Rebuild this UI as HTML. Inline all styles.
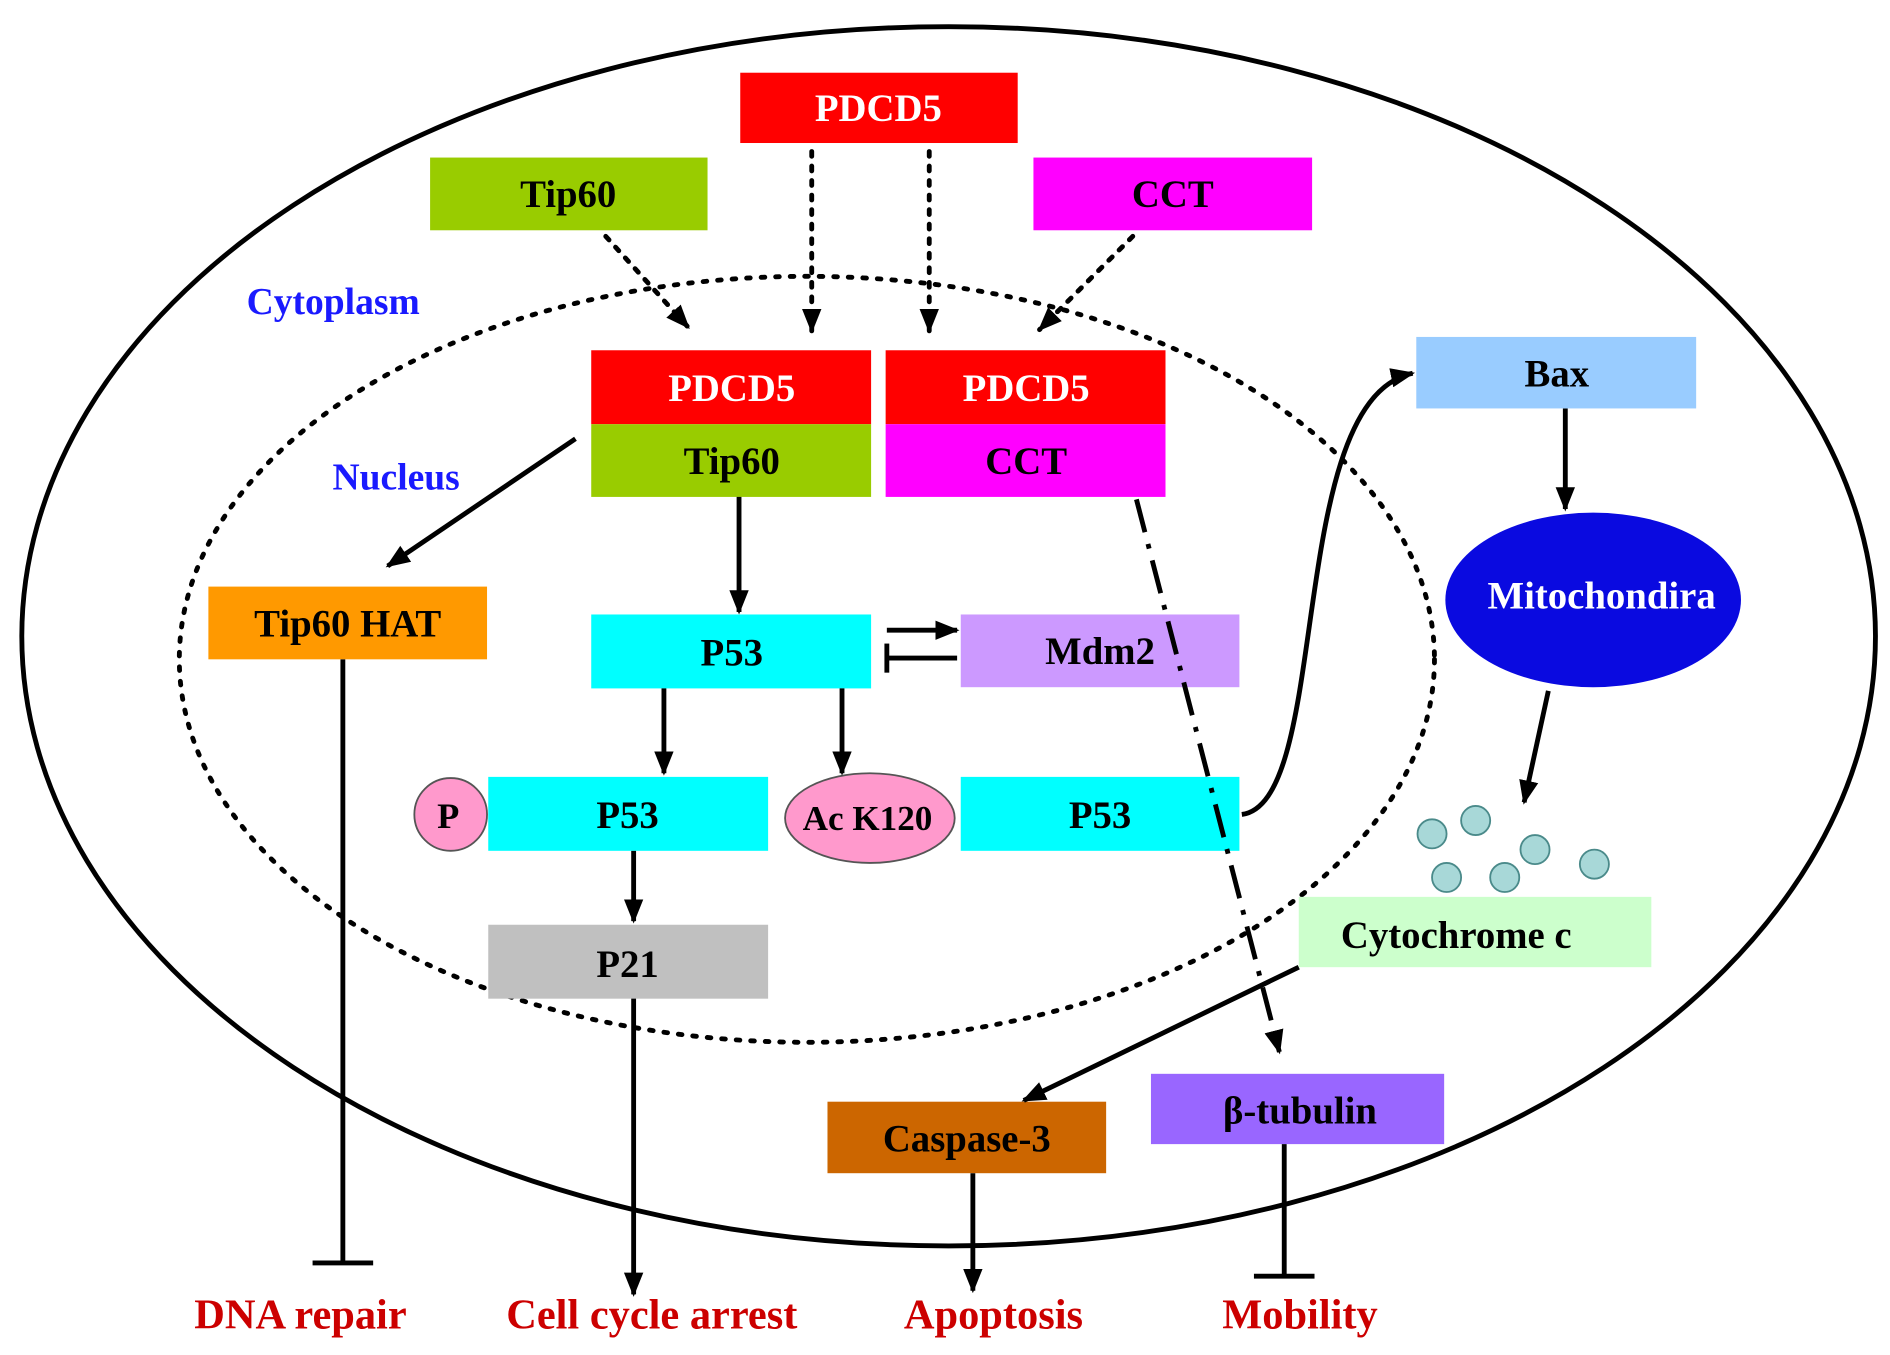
<!DOCTYPE html>
<html><head><meta charset="utf-8"><style>
html,body{margin:0;padding:0;background:#fff}
svg{display:block}
text{font-family:"Liberation Serif",serif;font-weight:bold}
</style></head><body>
<svg width="1890" height="1355" viewBox="0 0 1560 1118" preserveAspectRatio="none" xmlns="http://www.w3.org/2000/svg">
<defs>
<marker id="a" viewBox="0 0 10 10" refX="9" refY="5" markerWidth="6" markerHeight="6" orient="auto" markerUnits="userSpaceOnUse" style="overflow:visible">
<path d="M0,0 L10,5 L0,10 z" fill="#000" transform="scale(2)" />
</marker>
<marker id="b" viewBox="0 0 20 20" refX="18" refY="10" markerWidth="20" markerHeight="20" orient="auto" markerUnits="userSpaceOnUse">
<path d="M0,2 L20,10 L0,18 z" fill="#000"/>
</marker>
</defs>
<rect width="1560" height="1118" fill="#fff"/>
<ellipse cx="783" cy="525" rx="765" ry="503" fill="none" stroke="#000" stroke-width="4"/>
<ellipse cx="666" cy="544" rx="518" ry="316" fill="none" stroke="#000" stroke-width="4" stroke-dasharray="3,9" stroke-linecap="round"/>

<g font-size="32" text-anchor="middle">
<rect x="611" y="60" width="229" height="58" fill="#ff0000"/><text x="725" y="100" fill="#fff">PDCD5</text>
<rect x="355" y="130" width="229" height="60" fill="#99cc00"/><text x="469" y="171" fill="#000">Tip60</text>
<rect x="853" y="130" width="230" height="60" fill="#ff00ff"/><text x="968" y="171" fill="#000">CCT</text>

<rect x="488" y="289" width="231" height="61" fill="#ff0000"/><text x="604" y="331" fill="#fff">PDCD5</text>
<rect x="488" y="350" width="231" height="60" fill="#99cc00"/><text x="604" y="391" fill="#000">Tip60</text>
<rect x="731" y="289" width="231" height="61" fill="#ff0000"/><text x="847" y="331" fill="#fff">PDCD5</text>
<rect x="731" y="350" width="231" height="60" fill="#ff00ff"/><text x="847" y="391" fill="#000">CCT</text>

<rect x="1169" y="278" width="231" height="59" fill="#99ccff"/><text x="1285" y="319" fill="#000">Bax</text>
<ellipse cx="1315" cy="495" rx="122" ry="72" fill="#0a0ae0"/><text x="1322" y="502" fill="#fff">Mitochondira</text>

<rect x="172" y="484" width="230" height="60" fill="#ff9900"/><text x="287" y="525" fill="#000">Tip60 HAT</text>
<rect x="488" y="507" width="231" height="61" fill="#00ffff"/><text x="604" y="549" fill="#000">P53</text>
<rect x="793" y="507" width="230" height="60" fill="#cc99ff"/><text x="908" y="548" fill="#000">Mdm2</text>

<rect x="403" y="641" width="231" height="61" fill="#00ffff"/><text x="518" y="683" fill="#000">P53</text>
<circle cx="372" cy="672" r="30" fill="#ff99cc" stroke="#555" stroke-width="1.5"/><text x="370" y="683" fill="#000" font-size="30">P</text>
<rect x="793" y="641" width="230" height="61" fill="#00ffff"/><text x="908" y="683" fill="#000">P53</text>
<ellipse cx="718" cy="675" rx="70" ry="37" fill="#ff99cc" stroke="#555" stroke-width="1.5"/><text x="716" y="685" fill="#000" font-size="29">Ac K120</text>

<rect x="403" y="763" width="231" height="61" fill="#c0c0c0"/><text x="518" y="806" fill="#000">P21</text>
<rect x="1072" y="740" width="291" height="58" fill="#ccffcc"/><text x="1202" y="782" fill="#000">Cytochrome c</text>
<rect x="683" y="909" width="230" height="59" fill="#cc6600"/><text x="798" y="950" fill="#000">Caspase-3</text>
<rect x="950" y="886" width="242" height="58" fill="#9966ff"/><text x="1073" y="927" fill="#000">β-tubulin</text>
</g>

<g fill="#a8d8d8" stroke="#4a8a8a" stroke-width="1.5">
<circle cx="1182" cy="688" r="12"/><circle cx="1218" cy="677" r="12"/><circle cx="1267" cy="701" r="12"/>
<circle cx="1316" cy="713" r="12"/><circle cx="1194" cy="724" r="12"/><circle cx="1242" cy="724" r="12"/>
</g>

<text x="275" y="259" font-size="31" fill="#1a1aff" text-anchor="middle">Cytoplasm</text>
<text x="327" y="404" font-size="31" fill="#1a1aff" text-anchor="middle">Nucleus</text>

<g font-size="35" fill="#cc0000" text-anchor="middle">
<text x="248" y="1096">DNA repair</text>
<text x="538" y="1096">Cell cycle arrest</text>
<text x="820" y="1096">Apoptosis</text>
<text x="1073" y="1096">Mobility</text>
</g>

<g stroke="#000" stroke-width="4" fill="none">
<g stroke-dasharray="4,8" stroke-linecap="round">
<line x1="500" y1="195" x2="568" y2="270" marker-end="url(#b)"/>
<line x1="670" y1="125" x2="670" y2="273" marker-end="url(#b)"/>
<line x1="767" y1="125" x2="767" y2="273" marker-end="url(#b)"/>
<line x1="935" y1="195" x2="858" y2="272" marker-end="url(#b)"/>
</g>
<line x1="938" y1="412" x2="1056" y2="868" stroke-dasharray="28,10,4,10" marker-end="url(#b)"/>
<line x1="475" y1="362" x2="320" y2="467" marker-end="url(#b)"/>
<line x1="610" y1="410" x2="610" y2="505" marker-end="url(#b)"/>
<line x1="732" y1="520" x2="790" y2="520" marker-end="url(#b)"/>
<line x1="790" y1="543" x2="732" y2="543"/><line x1="732" y1="531" x2="732" y2="555"/>
<line x1="548" y1="568" x2="548" y2="638" marker-end="url(#b)"/>
<line x1="695" y1="568" x2="695" y2="638" marker-end="url(#b)"/>
<line x1="523" y1="702" x2="523" y2="760" marker-end="url(#b)"/>
<line x1="523" y1="824" x2="523" y2="1068" marker-end="url(#b)"/>
<line x1="283" y1="544" x2="283" y2="1042"/><line x1="258" y1="1042" x2="308" y2="1042"/>
<path d="M1025 672 C1100 662, 1060 330, 1166 308" marker-end="url(#b)"/>
<line x1="1292" y1="337" x2="1292" y2="420" marker-end="url(#b)"/>
<line x1="1278" y1="570" x2="1258" y2="662" marker-end="url(#b)"/>
<line x1="1072" y1="798" x2="845" y2="908" marker-end="url(#b)"/>
<line x1="803" y1="968" x2="803" y2="1065" marker-end="url(#b)"/>
<line x1="1060" y1="944" x2="1060" y2="1053"/><line x1="1035" y1="1053" x2="1085" y2="1053"/>
</g>
</svg>
</body></html>
